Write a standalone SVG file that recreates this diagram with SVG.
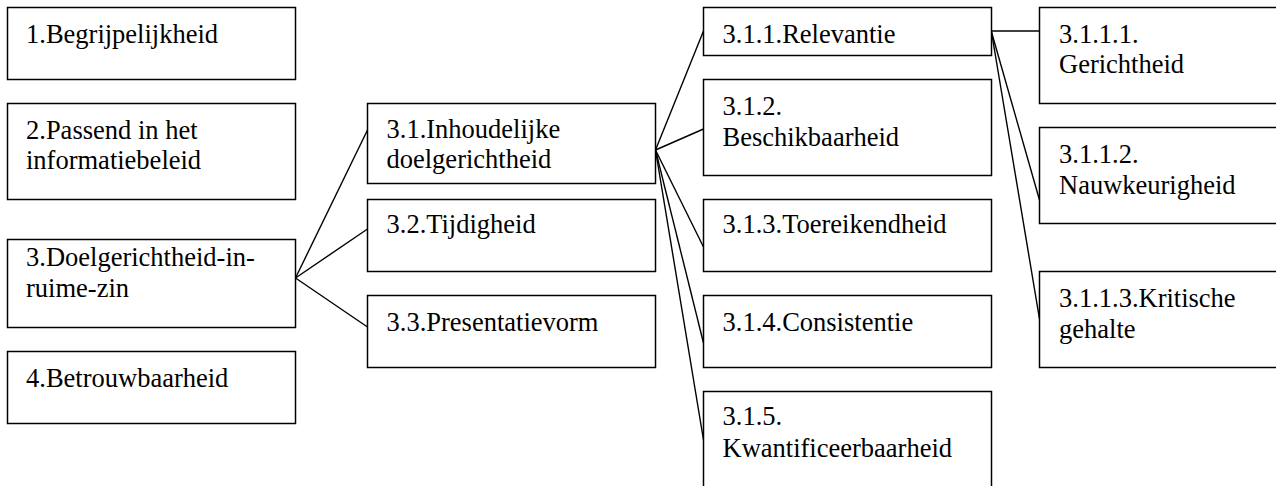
<svg xmlns="http://www.w3.org/2000/svg" width="1276" height="486" viewBox="0 0 1276 486">
  <style>
    .box { fill: #ffffff; stroke: #000000; stroke-width: 1.5; }
    .lbl { font-family: "Liberation Serif", "Times New Roman", serif; font-size: 26.5px; fill: #000000; }
    .link { stroke: #000000; stroke-width: 1.4; fill: none; }
  </style>
  <rect width="1276" height="486" fill="#ffffff"/>

  <!-- connectors -->
  <g id="connectors">
    <line class="link" x1="295.5" y1="278" x2="367.5" y2="130"/>
    <line class="link" x1="295.5" y1="278" x2="367.5" y2="229"/>
    <line class="link" x1="295.5" y1="278" x2="367.5" y2="327"/>
    <line class="link" x1="655.5" y1="150" x2="703.5" y2="31"/>
    <line class="link" x1="655.5" y1="150" x2="703.5" y2="129"/>
    <line class="link" x1="655.5" y1="150" x2="703.5" y2="247"/>
    <line class="link" x1="655.5" y1="150" x2="703.5" y2="343"/>
    <line class="link" x1="655.5" y1="150" x2="703.5" y2="440"/>
    <line class="link" x1="991.5" y1="31" x2="1039.5" y2="31"/>
    <line class="link" x1="991.5" y1="32" x2="1039.5" y2="200"/>
    <line class="link" x1="991.5" y1="32" x2="1039.5" y2="319"/>
  </g>

  <!-- level 1 -->
  <g id="n1">
    <rect class="box" x="7.5" y="7.5" width="288" height="72"/>
    <text class="lbl" x="26" y="43">1.Begrijpelijkheid</text>
  </g>
  <g id="n2">
    <rect class="box" x="7.5" y="103.5" width="288" height="96"/>
    <text class="lbl" x="26" y="139">2.Passend in het</text>
    <text class="lbl" x="26" y="169">informatiebeleid</text>
  </g>
  <g id="n3">
    <rect class="box" x="7.5" y="239.5" width="288" height="88"/>
    <text class="lbl" x="26" y="266">3.Doelgerichtheid-in-</text>
    <text class="lbl" x="26" y="297">ruime-zin</text>
  </g>
  <g id="n4">
    <rect class="box" x="7.5" y="351.5" width="288" height="72"/>
    <text class="lbl" x="26" y="387">4.Betrouwbaarheid</text>
  </g>

  <!-- level 2 -->
  <g id="n3-1">
    <rect class="box" x="367.5" y="103.5" width="288" height="80"/>
    <text class="lbl" x="386.5" y="138">3.1.Inhoudelijke</text>
    <text class="lbl" x="386.5" y="168">doelgerichtheid</text>
  </g>
  <g id="n3-2">
    <rect class="box" x="367.5" y="199.5" width="288" height="72"/>
    <text class="lbl" x="386.5" y="233">3.2.Tijdigheid</text>
  </g>
  <g id="n3-3">
    <rect class="box" x="367.5" y="295.5" width="288" height="72"/>
    <text class="lbl" x="386.5" y="331">3.3.Presentatievorm</text>
  </g>

  <!-- level 3 -->
  <g id="n3-1-1">
    <rect class="box" x="703.5" y="7.5" width="288" height="48"/>
    <text class="lbl" x="722.5" y="43">3.1.1.Relevantie</text>
  </g>
  <g id="n3-1-2">
    <rect class="box" x="703.5" y="79.5" width="288" height="96"/>
    <text class="lbl" x="722.5" y="115">3.1.2.</text>
    <text class="lbl" x="722.5" y="146">Beschikbaarheid</text>
  </g>
  <g id="n3-1-3">
    <rect class="box" x="703.5" y="199.5" width="288" height="72"/>
    <text class="lbl" x="722.5" y="233">3.1.3.Toereikendheid</text>
  </g>
  <g id="n3-1-4">
    <rect class="box" x="703.5" y="295.5" width="288" height="72"/>
    <text class="lbl" x="722.5" y="331">3.1.4.Consistentie</text>
  </g>
  <g id="n3-1-5">
    <rect class="box" x="703.5" y="391.5" width="288" height="120"/>
    <text class="lbl" x="722.5" y="425">3.1.5.</text>
    <text class="lbl" x="722.5" y="457">Kwantificeerbaarheid</text>
  </g>

  <!-- level 4 -->
  <g id="n3-1-1-1">
    <rect class="box" x="1039.5" y="7.5" width="300" height="96"/>
    <text class="lbl" x="1059" y="43">3.1.1.1.</text>
    <text class="lbl" x="1059" y="73">Gerichtheid</text>
  </g>
  <g id="n3-1-1-2">
    <rect class="box" x="1039.5" y="127.5" width="300" height="96"/>
    <text class="lbl" x="1059" y="163">3.1.1.2.</text>
    <text class="lbl" x="1059" y="194">Nauwkeurigheid</text>
  </g>
  <g id="n3-1-1-3">
    <rect class="box" x="1039.5" y="271.5" width="300" height="96"/>
    <text class="lbl" x="1059" y="307">3.1.1.3.Kritische</text>
    <text class="lbl" x="1059" y="338">gehalte</text>
  </g>
</svg>
